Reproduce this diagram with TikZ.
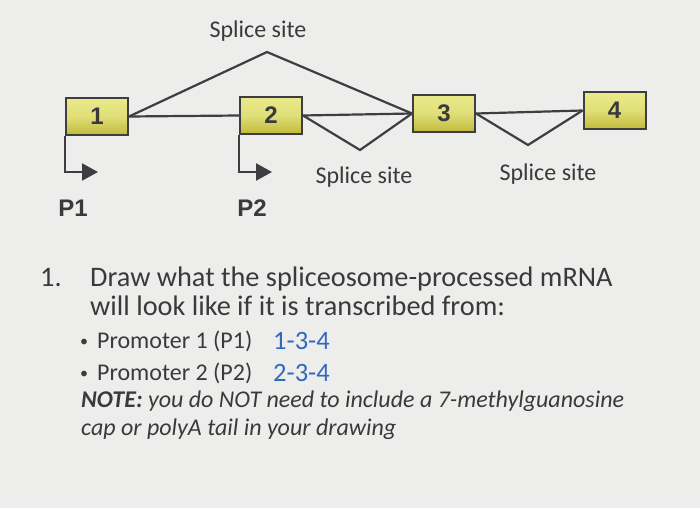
\documentclass[tikz,border=0pt]{standalone}
\usepackage{fontspec}
\setmainfont{Carlito}
\newfontfamily\arialfont{Liberation Sans}
\usetikzlibrary{arrows.meta}
\definecolor{bgc}{RGB}{237,237,235}
\definecolor{ink}{RGB}{58,58,60}
\definecolor{linec}{RGB}{62,62,66}
\definecolor{bluec}{RGB}{45,105,190}
\definecolor{boxtop}{RGB}{234,234,140}
\definecolor{boxbot}{RGB}{192,186,58}
\tikzset{
  exon/.style={draw=linec, line width=2pt, top color=boxtop, bottom color=boxbot, middle color=boxtop!75!boxbot,
    minimum width=62pt, minimum height=37pt, inner sep=0pt, font=\arialfont\bfseries\fontsize{24}{28}\selectfont, text=ink},
  conn/.style={draw=linec, line width=2.2pt},
  prom/.style={draw=linec, line width=2.2pt, -{Triangle[length=16pt,width=17pt]}},
  lbl/.style={font=\fontsize{24}{28}\selectfont, text=ink, inner sep=0pt},
  plbl/.style={font=\arialfont\bfseries\fontsize{24}{28}\selectfont, text=ink, inner sep=0pt},
  txt/.style={font=\fontsize{28.3}{32}\selectfont, text=ink, inner sep=0pt, anchor=base west},
  btxt/.style={font=\fontsize{24}{28}\selectfont, text=ink, inner sep=0pt, anchor=base west},
  ntxt/.style={font=\fontsize{24}{28}\selectfont\itshape, text=ink, inner sep=0pt, anchor=base west},
}
\begin{document}
\begin{tikzpicture}[x=1pt,y=-1pt]
\fill[bgc] (0,0) rectangle (700,508);
\useasboundingbox (0,0) rectangle (700,508);
% exons
\node[exon] (b1) at (97,116.5) {1};
\node[exon] (b2) at (271,115.5) {2};
\node[exon] (b3) at (444,113.5) {3};
\node[exon] (b4) at (614.5,110.5) {4};
% splice junction points
\coordinate (a1) at (267,52);
\coordinate (v1) at (360,150);
\coordinate (v2) at (528,145);
\coordinate (p1) at (98,172);
\coordinate (p2) at (272,172);
% connectors
\draw[conn] (b1.east) -- (b2.west);
\draw[conn] (b1.east) -- (a1) -- (b3.west);
\draw[conn] (b2.east) -- (b3.west);
\draw[conn] (b2.east) -- (v1) -- (b3.west);
\draw[conn] (b3.east) -- (b4.west);
\draw[conn] (b3.east) -- (v2) -- (b4.west);
% promoters
\draw[prom] (b1.south west) |- (p1);
\draw[prom] (b2.south west) |- (p2);
% labels
\node[lbl, anchor=base] (s1) at (258,38) {Splice site};
\node[lbl, anchor=base] (s2) at (364,183) {Splice site};
\node[lbl, anchor=base] (s3) at (548,180) {Splice site};
\node[plbl, anchor=base] (P1) at (73,216) {P1};
\node[plbl, anchor=base] (P2) at (252,216) {P2};
% text
\node[txt] (n1) at (40,286) {1.};
\node[txt] (t1) at (90,286) {Draw what the spliceosome-processed mRNA};
\node[txt] (t2) at (90,315) {will look like if it is transcribed from:};
\node[btxt, font=\fontsize{16}{20}\selectfont] (u1) at (80,346) {•};
\node[btxt] (c1) at (97,348) {Promoter 1 (P1)};
\node[btxt, text=bluec, font=\fontsize{26.5}{30}\selectfont] (r1) at (273,349) {1-3-4};
\node[btxt, font=\fontsize{16}{20}\selectfont] (u2) at (80,378) {•};
\node[btxt] (c2) at (97,380) {Promoter 2 (P2)};
\node[btxt, text=bluec, font=\fontsize{26.5}{30}\selectfont] (r2) at (273,381) {2-3-4};
\node[ntxt] (m1) at (81,407) {\textbf{NOTE:} you do NOT need to include a 7-methylguanosine};
\node[ntxt] (m2) at (81,435) {cap or polyA tail in your drawing};
\end{tikzpicture}
\end{document}
